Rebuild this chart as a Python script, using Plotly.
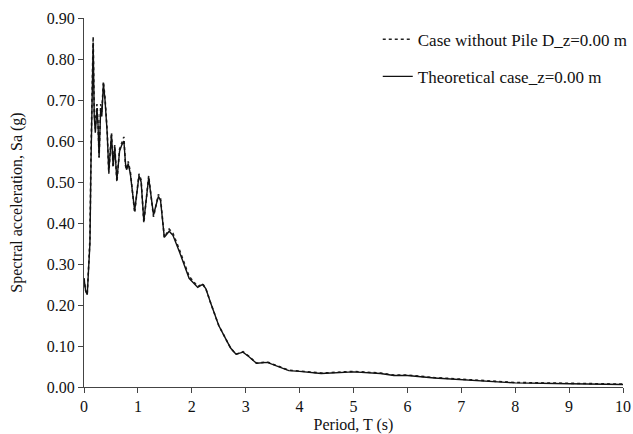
import plotly.graph_objects as go

period = [0.00, 0.03, 0.06, 0.09, 0.11, 0.13, 0.15, 0.17, 0.19, 0.21, 0.24, 0.26, 0.28, 0.31, 0.33, 0.36, 0.39,
          0.43, 0.46, 0.51, 0.54, 0.57, 0.61, 0.66, 0.70, 0.74, 0.77, 0.79, 0.82, 0.86, 0.94, 1.02, 1.06,
          1.11, 1.20, 1.29, 1.38, 1.42, 1.49, 1.58, 1.65, 1.77, 1.95, 2.11, 2.20, 2.26, 2.35, 2.50, 2.62,
          2.72, 2.82, 2.95, 3.05, 3.20, 3.40, 3.60, 3.80, 4.00, 4.40, 5.00, 5.50, 5.75, 6.00, 6.50, 7.00,
          7.50, 8.00, 9.00, 10.00]
theoretical = [0.265, 0.235, 0.225, 0.30, 0.35, 0.55, 0.70, 0.84, 0.66, 0.62, 0.68, 0.64, 0.56, 0.68, 0.66, 0.74, 0.70,
               0.62, 0.525, 0.615, 0.54, 0.585, 0.505, 0.575, 0.59, 0.60, 0.545, 0.53, 0.545, 0.52, 0.43, 0.515, 0.50,
               0.405, 0.51, 0.42, 0.465, 0.455, 0.365, 0.38, 0.37, 0.33, 0.265, 0.243, 0.25, 0.24, 0.205, 0.15, 0.12,
               0.095, 0.08, 0.085, 0.075, 0.058, 0.06, 0.05, 0.04, 0.038, 0.033, 0.037, 0.033, 0.028, 0.028, 0.022, 0.018,
               0.013, 0.010, 0.008, 0.006]
without_pile = [0.265, 0.235, 0.225, 0.31, 0.36, 0.57, 0.72, 0.855, 0.67, 0.63, 0.69, 0.645, 0.56, 0.69, 0.67, 0.745, 0.705,
                0.625, 0.52, 0.62, 0.535, 0.59, 0.50, 0.58, 0.595, 0.61, 0.54, 0.53, 0.55, 0.525, 0.425, 0.52, 0.505,
                0.40, 0.515, 0.415, 0.47, 0.46, 0.365, 0.385, 0.375, 0.335, 0.27, 0.245, 0.252, 0.24, 0.205, 0.15, 0.12,
                0.095, 0.08, 0.086, 0.076, 0.058, 0.061, 0.051, 0.041, 0.039, 0.034, 0.038, 0.034, 0.029, 0.029, 0.023, 0.019,
                0.014, 0.011, 0.009, 0.007]

font_family = "Liberation Serif, Times New Roman, serif"

fig = go.Figure()
fig.add_trace(go.Scatter(x=period, y=without_pile, mode="lines", name="Case without Pile D_z=0.00 m",
                         line=dict(color="#222222", width=1.6, dash="dot"), legendgroup="a"))
fig.add_trace(go.Scatter(x=period, y=theoretical, mode="lines", name="Theoretical case_z=0.00 m",
                         line=dict(color="#111111", width=1.4), legendgroup="b"))

fig.update_layout(
    width=633, height=434,
    margin=dict(l=84, r=10, t=18, b=47, autoexpand=False),
    paper_bgcolor="white", plot_bgcolor="white",
    font=dict(family=font_family, size=16, color="#111111"),
    showlegend=True,
    legend=dict(x=0.545, y=0.99, xanchor="left", yanchor="top", bgcolor="rgba(0,0,0,0)",
                traceorder="grouped", tracegroupgap=12, font=dict(size=17, family=font_family),
                itemwidth=30),
    xaxis=dict(range=[0, 10], tickmode="array", tickvals=list(range(0, 11)),
               ticktext=[str(v) for v in range(0, 11)], ticklabeloverflow="allow",
               showgrid=False, zeroline=False, showline=True, linecolor="#444444", linewidth=1,
               ticks="outside", ticklen=5, tickcolor="#444444",
               tickfont=dict(size=16, family=font_family),
               title=dict(text="Period, T (s)", font=dict(size=16, family=font_family), standoff=4)),
    yaxis=dict(range=[0, 0.9], tickmode="array", tickvals=[i / 10 for i in range(10)],
               ticktext=["%.2f" % (i / 10) for i in range(10)],
               showgrid=False, zeroline=False, showline=True, linecolor="#444444", linewidth=1,
               ticks="outside", ticklen=5, tickcolor="#444444",
               tickfont=dict(size=16, family=font_family),
               title=dict(text="Spectral acceleration, Sa (g)", font=dict(size=16, family=font_family), standoff=20)),
)

fig.write_html("out.html")
